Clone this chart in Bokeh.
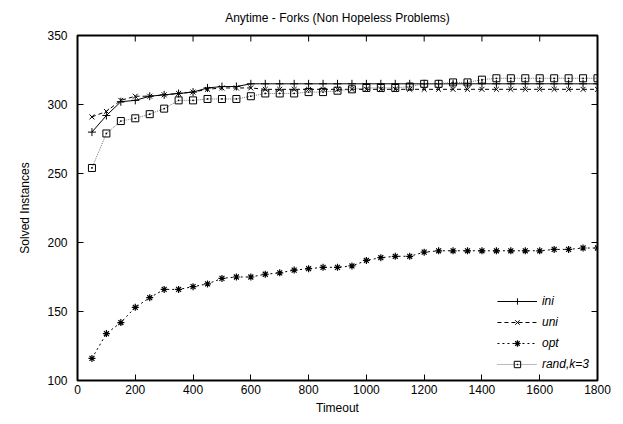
import math
from bokeh.plotting import figure
from bokeh.models import Range1d, FixedTicker
from bokeh.embed import file_html
from bokeh.resources import INLINE

timeout = list(range(50, 1801, 50))

ini = [280, 292, 302, 303, 306, 307, 308, 309, 312, 313, 313, 315, 315, 315, 315, 315,
       315, 315, 315, 315, 315, 315, 315, 315, 315, 315, 315, 315, 315, 315, 315, 315,
       315, 315, 315, 315]
uni = [291, 295, 303, 306, 306, 307, 308, 309, 311, 312, 312, 312, 311, 311, 311, 311,
       311, 311, 311, 311, 311, 311, 311, 311, 311, 311, 311, 311, 311, 311, 311, 311,
       311, 311, 311, 311]
opt = [116, 134, 142, 153, 160, 166, 166, 168, 170, 174, 175, 175, 177, 178, 180, 181,
       182, 182, 183, 187, 189, 190, 190, 193, 194, 194, 194, 194, 194, 194, 194, 194,
       195, 195, 196, 196]
rand_k3 = [254, 279, 288, 290, 293, 297, 303, 303, 304, 304, 304, 306, 308, 308, 308, 309,
           309, 310, 311, 312, 312, 312, 313, 315, 315, 316, 316, 318, 319, 319, 319, 319,
           319, 319, 319, 319]

x_ticks = [0, 200, 400, 600, 800, 1000, 1200, 1400, 1600, 1800]
y_ticks = [100, 150, 200, 250, 300, 350]

TITLE = "Anytime - Forks (Non Hopeless Problems)"
FONT = "Liberation Sans"
X_MIN, X_MAX = 0, 1800
Y_MIN, Y_MAX = 100, 350

p = figure(width=623, height=424, output_backend="svg", toolbar_location=None,
           x_range=Range1d(X_MIN, X_MAX), y_range=Range1d(Y_MIN, Y_MAX),
           min_border_left=77, min_border_right=26, min_border_top=35, min_border_bottom=44,
           title=TITLE)
p.title.align = "center"
p.title.text_font = FONT
p.title.text_font_size = "12px"
p.title.text_font_style = "normal"
p.title.text_color = "black"
p.title.vertical_align = "top"
p.title.standoff = 18

p.xgrid.visible = False
p.ygrid.visible = False
p.outline_line_color = "black"
p.outline_line_width = 2
p.background_fill_color = "white"
p.border_fill_color = "white"

for ax, ticks in ((p.xaxis[0], x_ticks), (p.yaxis[0], y_ticks)):
    ax.ticker = FixedTicker(ticks=ticks)
    ax.major_tick_in = 6
    ax.major_tick_out = 0
    ax.minor_tick_in = 0
    ax.minor_tick_out = 0
    ax.major_tick_line_color = "black"
    ax.major_tick_line_width = 1
    ax.axis_line_color = None
    ax.major_label_text_font = FONT
    ax.major_label_text_font_size = "12px"
    ax.major_label_text_color = "black"
    ax.axis_label_text_font = FONT
    ax.axis_label_text_font_size = "12px"
    ax.axis_label_text_font_style = "normal"
    ax.axis_label_text_color = "black"

p.xaxis[0].axis_label = "Timeout"
p.xaxis[0].major_label_standoff = 4
p.xaxis[0].axis_label_standoff = 4
p.yaxis[0].axis_label = "Solved Instances"
p.yaxis[0].major_label_standoff = 10
p.yaxis[0].axis_label_standoff = 12

# mirrored inward ticks on the top and right edges (half of each dash is clipped by the frame)
p.scatter(x_ticks, [Y_MAX] * len(x_ticks), marker="dash", angle=math.pi / 2, size=12,
          line_color="black", line_width=1)
p.scatter([X_MAX] * len(y_ticks), y_ticks, marker="dash", size=12,
          line_color="black", line_width=1)

p.line(timeout, ini, line_color="black", line_width=1, legend_label="ini")
p.scatter(timeout, ini, marker="cross", size=8, line_color="black", line_width=1, legend_label="ini")

p.line(timeout, uni, line_color="black", line_width=1, line_dash="4 3", legend_label="uni")
p.scatter(timeout, uni, marker="x", size=7, line_color="black", line_width=1, legend_label="uni")

p.line(timeout, opt, line_color="black", line_width=1, line_dash="2 3", legend_label="opt")
p.scatter(timeout, opt, marker="asterisk", size=7, line_color="black", line_width=1.2, legend_label="opt")

p.line(timeout, rand_k3, line_color="#777777", line_width=1, line_dash="1 1", legend_label="rand,k=3")
p.scatter(timeout, rand_k3, marker="square_dot", size=7, line_color="black", fill_color=None,
          line_width=1, legend_label="rand,k=3")

lg = p.legend[0]
lg.location = "bottom_right"
lg.label_text_font = FONT
lg.label_text_font_size = "12px"
lg.label_text_font_style = "italic"
lg.label_text_color = "black"
lg.border_line_color = None
lg.background_fill_alpha = 0
lg.glyph_width = 40
lg.glyph_height = 16
lg.spacing = 5
lg.padding = 4
lg.margin = 8

open("out.html", "w").write(file_html(p, INLINE))
